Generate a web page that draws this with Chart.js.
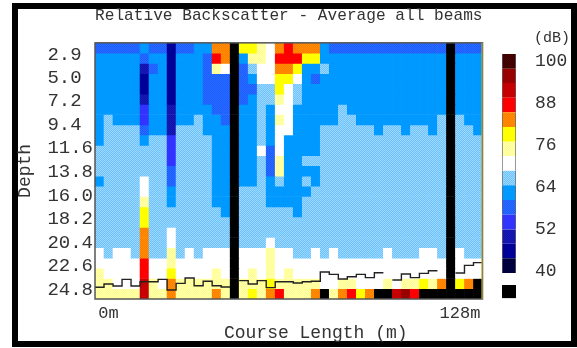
<!DOCTYPE html>
<html>
<head>
<meta charset="utf-8">
<title>Relative Backscatter</title>
<script src="https://cdn.jsdelivr.net/npm/chart.js"></script>
<style>
    html, body { margin: 0; padding: 0; background: #fff; overflow: hidden; }
    #frame { position: absolute; left: 12px; top: 3px; width: 565px; height: 344px; box-sizing: border-box; border: 6px solid #000; }
    #main { position: absolute; left: 0; top: 0; }
    #bar { position: absolute; left: 502px; top: 24px; }
</style>
</head>
<body>
<div id="frame"></div>
<canvas id="main" width="577" height="348"></canvas>
<canvas id="bar" width="68" height="304"></canvas>
<script>
const TITLE = 'Relative Backscatter - Average all beams';
const X_TITLE = 'Course Length (m)';
const Y_TITLE = 'Depth';
const UNIT = '(dB)';

//one label per column, only two of them are printed
const COURSE_LABELS = ['', '0m', '', '', '', '', '', '', '', '', '', '', '', '', '', '', '', '', '', '', '', '',
    '', '', '', '', '', '', '', '', '', '', '', '', '', '', '', '', '', '', '128m', '', ''];

const DEPTH_TICKS = [2.9, 5.0, 7.2, 9.4, 11.6, 13.8, 16.0, 18.2, 20.4, 22.6, 24.8];

//depth (m) at the edges of the 25 rows
const ROW_EDGES = [1.84, 2.80, 3.75, 4.71, 5.66, 6.62, 7.58, 8.53, 9.49, 10.44, 11.40, 12.36, 13.31,
    14.27, 15.22, 16.18, 17.14, 18.09, 19.05, 20.00, 20.96, 21.92, 22.87, 23.83, 24.78, 25.74];

//a = weakest level ... o = strongest level, # = no data
const ROWS = [
    'eeeeefeebeeffkk#jjihklkkkfeeeeeeeeeeeee#eee',
    'fffffeffbfffelk#fiihllljjffffffffffffff#fff',
    'fffffcefbfffeih#eghhkkjffgfffffffffffff#fff',
    'fffffbffbfffeee#efhhjjhfeffffffffffffff#fff',
    'fffffbffbfffeee#eeggjhgffffffffffffffff#fff',
    'fffffcffbfffeee#efggihgffffffffffffffff#fff',
    'fffffdffcffffee#ffgfhhfffffgfffffffffff#fff',
    'fgfffdffcffgffe#ffgfihfffffggfffffffffg#gff',
    'fggggeffcgggfff#ffgfhhfffggggggfggfggfg#ggf',
    'fggggfggdggggff#ffgfhffffgggggggggggggg#ggg',
    'ggggggggdggggff#ffhehffffgggggggggggggg#ggg',
    'ggggggggdggggff#ffgeiffgggggggggggggggg#ggg',
    'ggggggggeggggff#ffgeiffffgggggggggggggg#ggg',
    'fgggghggeggggff#ffgfgffgfgggggggggggggg#ggg',
    'ggggghggfggggff#gggfffffggggggggggggggg#ggg',
    'gggggiggfggggff#gggffffgggggggggggggggg#ggg',
    'gggggjggggggggf#ggggggfgggggggggggggggg#ggg',
    'gggggjggggggggg#ggggggggggggggggggggggg#ggg',
    'gggggkgghgggggg#ggggggggggggggggggggggg#ggg',
    'gggggkgghgggggg#ggghggggggggggggggggggg#ggg',
    'hghhgkggighghhh#hhhihhgghghggggghggghhg#hgg',
    'hhhhhlhhihhhhhh#hhhihhhhhhhhhhhhhhhhhhh#hhh',
    'ihhhhlhhjhhhhih#hihihihhhhhhhhhhhhhhhhh#hhh',
    'iihhhmihkiiiiii#iiijiiiiihhiihhhihiijik#jk#',
    'iiiiimiikiiiiki#ijikliiik#ikljk##mnl#######'
];

//depth of the bottom trace per column, null = no trace
const BOTTOM = [24.65, 24.34, 24.53, 23.91, 24.53, 24.13, 24.13, 23.91, 24.9, 24.28, 23.78, 24.5, 24.09, 24.5, 24.62, null,
    24.03, 24.34, 24.03, 24.68, 24.13, 24.13, 24.25, 24.13, 24.09, 23.22, 23.44, 23.88, 23.66, 23.44, 23.75, 23.29, null,
    23.97, 23.41, 23.75, 23.35, 23.1, null, null, 23.32, 22.6, 22.35];

//colour scale
const LEVELS = ['a', 'b', 'c', 'd', 'e', 'f', 'g', 'h', 'i', 'j', 'k', 'l', 'm', 'n', 'o'];
const LEVEL_EDGES = [39.5, 43.7, 47.9, 52, 56.2, 60.4, 64.6, 68.8, 73, 77.1, 81.3, 85.5, 89.7, 93.9, 98, 102.2];
const DB_TICKS = [100, 88, 76, 64, 52, 40];
const NO_DATA_BOX = [32.3, 36];

//checker grain for the in-between levels, two close tones round the mixed colour
function dither(c1, c2) {
    let c = document.createElement('canvas');
    c.width = 4;
    c.height = 4;
    let x = c.getContext('2d');
    for (let i = 0; i < 4; i++) {
        for (let j = 0; j < 4; j++) {
            x.fillStyle = (i + j) % 2 ? c1 : c2;
            x.fillRect(i, j, 1, 1);
        }
    }
    return x.createPattern(c, 'repeat');
}

const palette = {
    a: dither('#00004d', '#000030'),
    b: '#000099',
    c: dither('#1a1ab8', '#1010a8'),
    d: '#3333ff',
    e: dither('#2a6cff', '#1a5cff'),
    f: '#0099ff',
    g: dither('#6cc2ff', '#9cd8ff'),
    h: '#ffffff',
    i: dither('#ffff88', '#ffffb8'),
    j: '#ffff00',
    k: dither('#ff7a00', '#ff9000'),
    l: '#ff0000',
    m: dither('#cc0000', '#c00000'),
    n: '#990000',
    o: dither('#4d0000', '#380000'),
    '#': '#000000'
};

const FONT = '"Liberation Mono", monospace';
const INK = '#333333';

//each row is one dataset of floating bars
let datasets = ROWS.map(function(row, r) {
    return {
        type: 'bar',
        order: 1,
        data: COURSE_LABELS.map(function() { return [ROW_EDGES[r], ROW_EDGES[r + 1]]; }),
        backgroundColor: row.split('').map(function(code) { return palette[code]; }),
        borderWidth: 0,
        grouped: false,
        categoryPercentage: 1,
        barPercentage: 1
    };
});

//bottom trace, flat over the whole width of a column
let tracePoints = [];
BOTTOM.forEach(function(depth, i) {
    tracePoints.push({ x: i, y: depth });
    tracePoints.push({ x: i + 1, y: depth });
});

datasets.unshift({
    type: 'line',
    order: 0,
    xAxisID: 'xEdge',
    data: tracePoints,
    borderColor: '#222222',
    borderWidth: 1.4,
    pointRadius: 0,
    tension: 0,
    spanGaps: false
});

//border round the plot
const plotBorder = {
    id: 'plotBorder',
    afterDatasetsDraw: function(chart) {
        let a = chart.chartArea;
        let ctx = chart.ctx;
        ctx.save();
        ctx.strokeStyle = '#555555';
        ctx.lineWidth = 1.5;
        ctx.strokeRect(a.left, a.top, a.right - a.left, a.bottom - a.top);
        ctx.strokeStyle = '#c8b820';
        ctx.lineWidth = 1;
        ctx.beginPath();
        ctx.moveTo(a.right - 0.5, a.top);
        ctx.lineTo(a.right - 0.5, a.bottom);
        ctx.stroke();
        ctx.restore();
    }
};

new Chart(document.getElementById('main'), {
    type: 'bar',
    data: { labels: COURSE_LABELS, datasets: datasets },
    plugins: [plotBorder],
    options: {
        responsive: false,
        animation: false,
        layout: { padding: { left: 14, right: 94.5, top: 0, bottom: 4.2 } },
        plugins: {
            legend: { display: false },
            tooltip: { enabled: false },
            title: {
                display: true,
                text: TITLE,
                fullSize: false,
                color: INK,
                font: { family: FONT, size: 16.2, weight: 'normal' },
                padding: { top: 6.4, bottom: 17 }
            }
        },
        scales: {
            x: {
                type: 'category',
                offset: true,
                grid: { display: false, drawTicks: false },
                border: { display: false },
                afterFit: function(scale) {
                    scale.height = 44.8;
                },
                ticks: {
                    autoSkip: false,
                    maxRotation: 0,
                    minRotation: 0,
                    padding: 4.4,
                    color: INK,
                    font: { family: FONT, size: 17 }
                },
                title: {
                    display: true,
                    //leading spaces move the centred text to the right of the plot centre
                    text: '     ' + X_TITLE,
                    color: INK,
                    padding: 0,
                    font: { family: FONT, size: 18 }
                }
            },
            //bar charts give x axes an offset by default, the trace must run edge to edge
            xEdge: {
                type: 'linear',
                display: false,
                offset: false,
                bounds: 'data'
            },
            y: {
                type: 'linear',
                reverse: true,
                min: ROW_EDGES[0],
                max: ROW_EDGES[ROW_EDGES.length - 1],
                grid: { display: false, drawTicks: false },
                border: { display: false },
                afterBuildTicks: function(scale) {
                    scale.ticks = DEPTH_TICKS.map(function(v) { return { value: v }; });
                },
                afterFit: function(scale) {
                    scale.width = 81;
                },
                ticks: {
                    autoSkip: false,
                    padding: 2,
                    labelOffset: 1,
                    color: INK,
                    font: { family: FONT, size: 19 },
                    callback: function(value) {
                        return value.toFixed(1).padEnd(4);
                    }
                },
                title: {
                    display: true,
                    text: Y_TITLE,
                    color: INK,
                    padding: 0,
                    font: { family: FONT, size: 18 }
                }
            }
        }
    }
});

//colour bar
let barSets = LEVELS.map(function(code, i) {
    return {
        data: [[LEVEL_EDGES[i], LEVEL_EDGES[i + 1]]],
        backgroundColor: palette[code],
        borderColor: '#666666',
        borderWidth: { left: 1, right: 1 },
        borderSkipped: false,
        grouped: false,
        categoryPercentage: 1,
        barPercentage: 1
    };
});
barSets.push({
    data: [NO_DATA_BOX],
    backgroundColor: palette['#'],
    borderWidth: 0,
    grouped: false,
    categoryPercentage: 1,
    barPercentage: 1
});

new Chart(document.getElementById('bar'), {
    type: 'bar',
    data: { labels: ['dB'], datasets: barSets },
    options: {
        responsive: false,
        animation: false,
        plugins: {
            legend: { display: false },
            tooltip: { enabled: false },
            title: {
                display: true,
                text: UNIT,
                align: 'end',
                color: INK,
                font: { family: FONT, size: 15, weight: 'normal' },
                padding: { top: 5, bottom: 7 }
            }
        },
        scales: {
            x: {
                display: false,
                offset: true
            },
            y: {
                type: 'linear',
                position: 'right',
                min: NO_DATA_BOX[0],
                max: LEVEL_EDGES[LEVEL_EDGES.length - 1],
                grid: { display: false, drawTicks: false },
                border: { display: false },
                afterBuildTicks: function(scale) {
                    scale.ticks = DB_TICKS.map(function(v) { return { value: v }; });
                },
                afterFit: function(scale) {
                    scale.width = 54;
                },
                ticks: {
                    autoSkip: false,
                    padding: 19,
                    color: INK,
                    font: { family: FONT, size: 18 }
                }
            }
        }
    }
});
</script>
</body>
</html>
